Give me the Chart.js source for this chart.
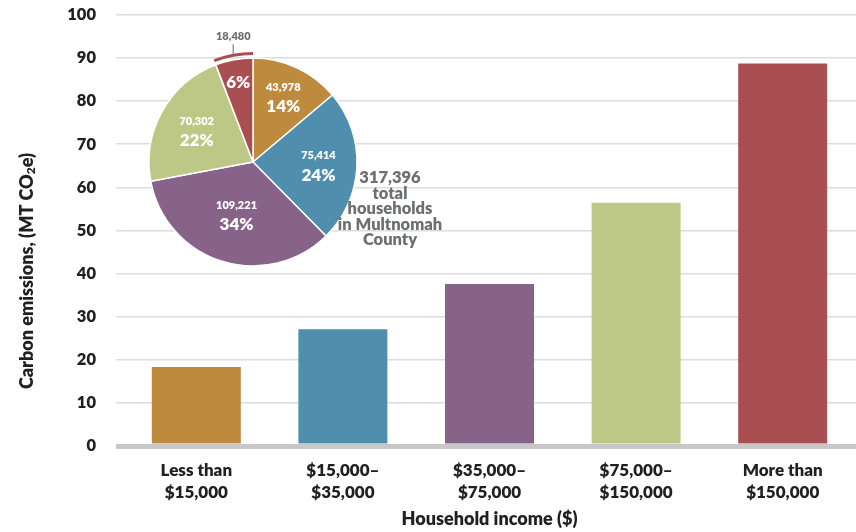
<!DOCTYPE html>
<html>
<head>
<meta charset="utf-8">
<script src="https://cdn.jsdelivr.net/npm/chart.js@4/dist/chart.umd.min.js"></script>
<style>
  html, body { margin: 0; padding: 0; background: #fff; overflow: hidden; }
  #wrap { position: relative; width: 856px; height: 532px; overflow: hidden; }
  #bar { position: absolute; left: 0; top: -15px; }
  #pie { position: absolute; left: 130px; top: 20px; }
</style>
</head>
<body>
<div id="wrap">
  <canvas id="bar" width="856" height="547"></canvas>
  <canvas id="pie" width="340" height="260"></canvas>
</div>
<script>
// data
const categories = [
  ['Less than', '$15,000'],
  ['$15,000–', '$35,000'],
  ['$35,000–', '$75,000'],
  ['$75,000–', '$150,000'],
  ['More than', '$150,000']
];
const emissions = [18.3, 27.1, 37.6, 56.4, 88.7];
const yMin = 0, yMax = 100, yStep = 10;

const households = [43978, 75414, 109221, 70302, 18480];
const householdLabels = ['43,978', '75,414', '109,221', '70,302', '18,480'];
const shareLabels = ['14%', '24%', '34%', '22%', '6%'];
const totalText = ['317,396', 'total', 'households', 'in Multnomah', 'County'];

const colors = ['#bd8a3e', '#4f8fad', '#87638a', '#bec886', '#a94f51'];
const FONT = 'Lato';
const W = 800;
const dark = '#231f20';
const grey = '#6d6e71';

// y axis title with a real subscript
const yTitle = {
  id: 'yTitle',
  afterDraw(chart) {
    const ctx = chart.ctx;
    const parts = [['Carbon emissions, (MT CO', 18, 0], ['2', 12, 4], ['e)', 18, 0]];
    ctx.save();
    ctx.translate(27, 286);
    ctx.rotate(-Math.PI / 2);
    ctx.fillStyle = dark;
    ctx.textBaseline = 'middle';
    ctx.textAlign = 'left';
    let total = 0;
    parts.forEach(p => { ctx.font = `${W} ${p[1]}px ${FONT}`; total += ctx.measureText(p[0]).width; });
    let x = -total / 2;
    parts.forEach(p => {
      ctx.font = `${W} ${p[1]}px ${FONT}`;
      ctx.fillText(p[0], x, p[2]);
      x += ctx.measureText(p[0]).width;
    });
    ctx.restore();
  }
};

// bar chart
new Chart(document.getElementById('bar'), {
  type: 'bar',
  data: {
    labels: categories,
    datasets: [{
      data: emissions,
      backgroundColor: colors,
      barPercentage: 0.607,
      categoryPercentage: 1
    }]
  },
  options: {
    responsive: false,
    animation: false,
    layout: { padding: { top: 0, right: 0 } },
    plugins: { legend: { display: false }, tooltip: { enabled: false } },
    scales: {
      x: {
        grid: { display: false },
        border: { display: false },
        ticks: {
          color: dark, maxRotation: 0, padding: 6,
          font: { family: FONT, size: 17, weight: W, lineHeight: 1.28 }
        },
        title: {
          display: true, text: 'Household income ($)', color: dark,
          font: { family: FONT, size: 18, weight: W },
          padding: { top: 0, bottom: 2 }
        },
        afterFit(s) { s.height = 86; }
      },
      y: {
        min: yMin, max: yMax,
        border: { display: false },
        grid: {
          color: c => c.tick && c.tick.value === 0 ? '#c8c8c8' : '#dcdcdc',
          lineWidth: c => c.tick && c.tick.value === 0 ? 5 : 1.5,
          tickLength: 7
        },
        ticks: {
          stepSize: yStep, padding: 20, color: dark,
          font: { family: FONT, size: 16.5, weight: W }
        },
        afterFit(s) { s.width = 123; }
      }
    }
  },
  plugins: [yTitle]
});

// pie labels
const labelRadius = [0.69, 0.63, 0.53, 0.62, 0.78];
const pieLabels = {
  id: 'pieLabels',
  afterDatasetsDraw(chart) {
    const ctx = chart.ctx;
    const arcs = chart.getDatasetMeta(0).data;
    ctx.save();
    ctx.textAlign = 'center';
    ctx.textBaseline = 'middle';
    arcs.forEach((arc, i) => {
      const { x, y, startAngle, endAngle, outerRadius } = arc.getProps(['x', 'y', 'startAngle', 'endAngle', 'outerRadius'], true);
      const mid = (startAngle + endAngle) / 2;
      const r = outerRadius * labelRadius[i];
      const cx = x + Math.cos(mid) * r;
      const cy = y + Math.sin(mid) * r;
      ctx.fillStyle = '#fff';
      if (i === arcs.length - 1) {
        ctx.font = `${W} 17px ${FONT}`;
        ctx.fillText(shareLabels[i], cx, cy);
        // bracket arc and outside value
        const br = outerRadius + 4.5;
        ctx.strokeStyle = colors[i];
        ctx.lineWidth = 3;
        ctx.beginPath();
        ctx.arc(x, y, br, startAngle, endAngle);
        ctx.stroke();
        const lx = x + Math.cos(mid) * br;
        const ly = y + Math.sin(mid) * br;
        ctx.strokeStyle = '#9a9a9a';
        ctx.lineWidth = 1.5;
        ctx.beginPath();
        ctx.moveTo(lx, ly - 1.5);
        ctx.lineTo(lx, ly - 11);
        ctx.stroke();
        ctx.fillStyle = grey;
        ctx.font = `${W} 11px ${FONT}`;
        ctx.fillText(householdLabels[i], lx, ly - 19);
      } else {
        ctx.font = `${W} 11px ${FONT}`;
        ctx.fillText(householdLabels[i], cx, cy - 9.5);
        ctx.font = `${W} 17px ${FONT}`;
        ctx.fillText(shareLabels[i], cx, cy + 10);
      }
    });
    // total text
    const tx = arcs[0].x + 137;
    ctx.fillStyle = grey;
    ctx.font = `${W} 16.5px ${FONT}`;
    totalText.forEach((t, k) => ctx.fillText(t, tx, arcs[0].y + 16 + k * 15.5));
    ctx.restore();
  }
};

new Chart(document.getElementById('pie'), {
  type: 'pie',
  data: {
    labels: categories.map(c => c.join(' ')),
    datasets: [{
      data: households,
      backgroundColor: colors,
      borderColor: '#fff',
      borderWidth: 1.5
    }]
  },
  options: {
    responsive: false,
    animation: false,
    radius: 104,
    layout: { padding: { left: 19, top: 38, right: 113, bottom: 14 } },
    plugins: { legend: { display: false }, tooltip: { enabled: false } }
  },
  plugins: [pieLabels]
});
</script>
</body>
</html>
